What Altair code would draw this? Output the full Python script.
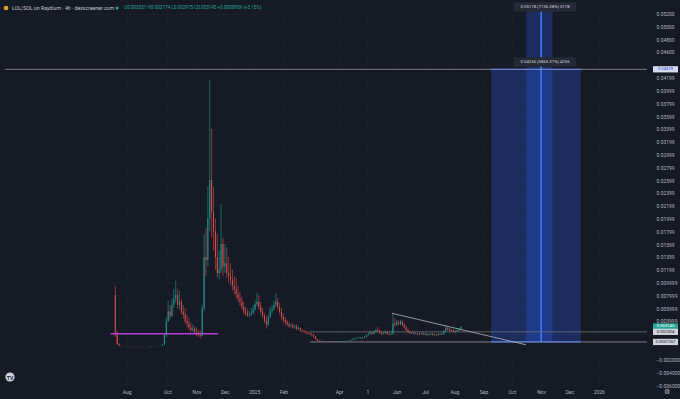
import altair as alt
import pandas as pd

# ---------------- data (prices, in 1e-3 SOL) ----------------
candle_start = "2024-08-07"
candle_step_days = 2
first_open_m = 8.0

close_m = [
    2.0, 0.4, 0.15, 0.10, 0.09, 0.08, 0.09, 0.10, 0.08, 0.07,
    0.08, 0.09, 0.08, 0.07, 0.08, 0.08, 0.09, 0.08, 0.07, 0.08,
    0.09, 0.10, 0.09, 0.11, 0.12, 0.30, 1.8, 4.0, 5.5, 4.8,
    6.5, 7.5, 8.0, 6.5, 7.0, 5.5, 5.0, 4.0, 3.6, 3.0,
    2.6, 2.8, 2.2, 2.0, 1.8, 1.7, 6.0, 14.0, 13.5, 20.0,
    26.0, 21.0, 18.0, 14.0, 11.5, 12.0, 16.0, 12.5, 13.0, 11.5,
    11.0, 10.5, 9.5, 9.0, 8.2, 7.5, 7.0, 6.2, 5.5, 5.2,
    4.9, 5.0, 5.3, 5.8, 6.6, 7.0, 6.2, 5.4, 4.8, 4.0,
    3.4, 4.6, 5.6, 5.9, 6.5, 7.0, 6.2, 5.4, 4.6, 4.2,
    3.8, 3.5, 3.2, 3.3, 3.0, 3.1, 2.8, 2.9, 2.5, 2.4,
    2.3, 2.2, 2.1, 2.0, 1.9, 1.6, 1.2, 1.0, 0.9, 0.85,
    0.80, 0.78, 0.80, 0.76, 0.79, 0.82, 0.78, 0.75, 0.80, 0.83,
    0.79, 0.82, 0.86, 0.90, 0.95, 1.05, 1.2, 1.3, 1.3, 1.4,
    1.3, 1.4, 1.5, 1.8, 2.0, 2.2, 2.0, 2.3, 2.6, 2.5,
    2.2, 2.0, 2.1, 2.3, 2.0, 1.9, 2.0, 3.6, 3.4, 3.8,
    3.5, 3.9, 3.4, 3.0, 2.6, 2.3, 2.1, 2.2, 2.0, 2.1,
    1.9, 2.0, 2.1, 1.9, 2.0, 1.8, 1.9, 2.0, 1.8, 1.9,
    1.8, 2.0, 1.9, 2.0, 2.4, 2.9, 2.7, 2.5, 2.6, 2.4,
    2.3, 2.5, 2.8, 3.145,
]
high_m = [
    9.5, 2.5, 0.5, 0.13, 0.12, 0.11, 0.12, 0.12, 0.11, 0.09,
    0.10, 0.11, 0.10, 0.09, 0.10, 0.10, 0.11, 0.10, 0.09, 0.10,
    0.11, 0.12, 0.11, 0.13, 0.14, 0.35, 2.0, 4.5, 7.2, 6.5,
    7.5, 9.0, 10.3, 9.0, 8.7, 7.5, 6.5, 6.0, 5.0, 4.5,
    3.8, 3.5, 3.2, 3.0, 2.6, 2.5, 6.5, 17.6, 18.5, 25.0,
    41.6, 34.0, 25.0, 20.0, 17.6, 15.0, 22.3, 17.0, 16.0, 15.5,
    14.0, 13.0, 12.0, 11.0, 10.8, 9.5, 8.5, 7.8, 7.0, 6.2,
    5.8, 5.6, 6.0, 6.5, 7.2, 8.4, 8.0, 7.0, 6.0, 5.2,
    4.8, 5.0, 6.2, 6.5, 7.2, 8.4, 7.6, 6.8, 6.0, 5.2,
    4.6, 4.2, 3.8, 3.6, 3.7, 3.4, 3.5, 3.2, 3.0, 2.7,
    2.6, 2.5, 2.4, 2.3, 2.1, 1.9, 1.6, 1.2, 1.0, 0.92,
    0.88, 0.84, 0.86, 0.82, 0.85, 0.88, 0.84, 0.81, 0.86, 0.89,
    0.85, 0.88, 0.92, 0.96, 1.0, 1.1, 1.3, 1.4, 1.45, 1.5,
    1.5, 1.55, 1.7, 1.9, 2.2, 2.5, 2.3, 2.5, 2.8, 3.1,
    2.6, 2.3, 2.3, 2.5, 2.4, 2.1, 2.4, 5.2, 4.4, 4.2,
    4.1, 4.2, 4.1, 3.6, 3.3, 2.8, 2.4, 2.35, 2.3, 2.25,
    2.2, 2.15, 2.25, 2.2, 2.15, 2.1, 2.0, 2.15, 2.1, 2.05,
    2.0, 2.1, 2.1, 2.2, 2.6, 3.4, 3.2, 2.9, 2.8, 2.7,
    2.6, 2.7, 2.9, 3.2,
]
low_m = [
    1.5, 0.3, 0.1, 0.08, 0.07, 0.06, 0.07, 0.08, 0.06, 0.05,
    0.06, 0.07, 0.06, 0.05, 0.06, 0.06, 0.07, 0.06, 0.05, 0.06,
    0.07, 0.08, 0.07, 0.08, 0.10, 0.11, 0.3, 1.5, 3.8, 4.2,
    4.6, 6.0, 6.8, 6.0, 5.8, 5.0, 4.4, 3.6, 3.0, 2.6,
    2.2, 2.3, 1.9, 1.7, 1.5, 1.3, 1.6, 5.5, 11.0, 12.5,
    18.0, 17.0, 15.0, 12.0, 10.8, 10.5, 11.5, 11.0, 11.5, 10.8,
    10.0, 9.6, 8.8, 8.2, 7.6, 7.0, 6.4, 5.8, 5.0, 4.8,
    4.6, 4.6, 4.8, 5.1, 5.6, 6.3, 5.8, 5.0, 4.4, 3.7,
    2.8, 3.2, 4.4, 5.2, 5.6, 6.2, 5.8, 5.0, 4.2, 3.8,
    3.4, 3.2, 2.9, 3.0, 2.8, 2.8, 2.6, 2.6, 2.3, 2.2,
    2.1, 2.0, 1.9, 1.8, 1.6, 1.4, 1.1, 0.9, 0.8, 0.80,
    0.75, 0.73, 0.75, 0.71, 0.74, 0.77, 0.73, 0.70, 0.75, 0.78,
    0.74, 0.77, 0.81, 0.85, 0.89, 0.93, 1.0, 1.15, 1.2, 1.25,
    1.2, 1.25, 1.35, 1.45, 1.7, 1.9, 1.85, 1.9, 2.2, 2.3,
    2.0, 1.85, 1.9, 2.0, 1.9, 1.75, 1.8, 1.9, 3.1, 3.2,
    3.3, 3.4, 3.2, 2.8, 2.4, 2.1, 1.95, 2.0, 1.9, 1.9,
    1.8, 1.8, 1.9, 1.8, 1.8, 1.7, 1.7, 1.8, 1.7, 1.7,
    1.65, 1.7, 1.8, 1.8, 1.9, 2.3, 2.5, 2.3, 2.3, 2.2,
    2.1, 2.2, 2.4, 2.7,
]

x_tick_dates = ["2024-08-19", "2024-10-01", "2024-11-01", "2024-12-01", "2025-01-01",
                "2025-02-01", "2025-04-01", "2025-05-01", "2025-06-01", "2025-07-01",
                "2025-08-01", "2025-09-01", "2025-10-01", "2025-11-01", "2025-12-01",
                "2026-01-01"]
x_tick_labels = ["Aug", "Oct", "Nov", "Dec", "2025", "Feb", "Apr", "1", "Jun", "Jul",
                 "Aug", "Sep", "Oct", "Nov", "Dec", "2026"]

y_tick_values = [0.052, 0.050, 0.048, 0.046, 0.044, 0.04199, 0.03999, 0.03799, 0.03599,
                 0.03399, 0.03199, 0.02999, 0.02799, 0.02599, 0.02399, 0.02199, 0.01999,
                 0.01799, 0.01599, 0.01399, 0.01199, 0.009999, 0.007999, 0.005999,
                 0.003999, 0.001999, 0.0, -0.002, -0.004, -0.006]
# scale labels hidden behind the price tags in the screenshot
y_hidden_labels = [0.044, 0.001999, 0.0]

# drawing tools
level_prices = [0.04329, 0.002304, 0.0007257]
level_starts = ["2024-04-12", "2025-03-01", "2025-03-01"]
level_colors = ["#9598a1", "#6f727c", "#9598a1"]

support_price = 0.002
support_start, support_end = "2024-08-02", "2024-11-24"

trend_t = ["2025-05-27", "2025-10-16"]
trend_p = [0.0052, 0.00028]

range_t1 = ["2025-09-09", "2025-10-16"]
range_t2 = ["2025-12-13", "2025-11-13"]
range_p1 = [0.0007257, 0.0007257]
range_p2 = [0.04329, 0.0525]
range_mid_t = "2025-11-01"

range_labels = ["0.05178 (7135.38%) 5178", "0.04256 (5865.31%) 4256"]

tag_prices = [0.04329, 0.003145, 0.002304, 0.0007257]
tag_texts = ["0.04329", "0.003145", "0.002304", "0.0007257"]
tag_fill = ["#d6dcf0", "#26a69a", "#d1d4dc", "#d1d4dc"]
tag_ink = ["#1848cc", "#ffffff", "#131722", "#131722"]

header_title = "LOL/SOL on Raydium · 4h · dexscreener.com"
header_ohlc = "O0.003051 H0.003174 L0.002975 C0.003145 +0.0000959 (+3.15%)"

# ---------------- build ----------------
BG = "#161a25"
GRID = "#1d212c"
FONT = "Roboto"


def dt(s, h=0):
    y, m, d = map(int, s.split("-"))
    return alt.DateTime(year=y, month=m, date=d, hours=h)


n = len(close_m)
open_m = [first_open_m] + close_m[:-1]
candles = pd.DataFrame({
    "t": pd.date_range(candle_start, periods=n, freq=f"{candle_step_days}D"),
    "open": [v / 1000 for v in open_m],
    "close": [v / 1000 for v in close_m],
    "high": [v / 1000 for v in high_m[:n]],
    "low": [v / 1000 for v in low_m[:n]],
})
candles["dir"] = ["up" if c >= o else "down" for o, c in zip(candles["open"], candles["close"])]

XS = alt.Scale(domain=[dt("2024-04-12", 4), dt("2026-02-21", 2)])
YS = alt.Scale(domain=[-0.00615, 0.05411], nice=False, zero=False)

expr = "''"
for d, lab in reversed(list(zip(x_tick_dates, x_tick_labels))):
    yy, mm, _ = map(int, d.split("-"))
    expr = f"(year(datum.value)=={yy} && month(datum.value)=={mm - 1}) ? '{lab}' : {expr}"

hidden = " || ".join(f"abs(datum.value - ({v})) < 1e-7" for v in y_hidden_labels)
y_expr = f"({hidden}) ? '' : (datum.value >= 0.01 ? format(datum.value, '.5f') : format(datum.value, '.6f'))"

X_AXIS = alt.Axis(values=[dt(d) for d in x_tick_dates], labelExpr=expr, title=None,
                  domain=False, ticks=False, labelPadding=3, labelFontSize=5,
                  labelColor="#b2b5be", labelFont=FONT, grid=True, gridColor=GRID,
                  gridWidth=0.6, labelOverlap=False, labelFlush=False)
Y_AXIS = alt.Axis(values=y_tick_values, orient="right", title=None, labelExpr=y_expr,
                  domain=False, ticks=False, labelPadding=4, labelFontSize=5,
                  labelColor="#b2b5be", labelFont=FONT, labelAlign="left",
                  labelBaseline="middle", grid=True, gridColor=GRID, gridWidth=0.6,
                  labelOverlap=False, labelFlush=False)


def X(f):
    return alt.X(f, type="temporal", scale=XS, axis=X_AXIS)


def Y(f):
    return alt.Y(f, type="quantitative", scale=YS, axis=Y_AXIS)


dir_color = alt.Color("dir:N", scale=alt.Scale(domain=["up", "down"], range=["#26a69a", "#ef5350"]), legend=None)

wicks = alt.Chart(candles).mark_rule(strokeWidth=0.6, opacity=0.9).encode(
    x=X("t"), y=Y("low"), y2="high:Q", color=dir_color)
bodies = alt.Chart(candles).mark_bar(width=1.0, opacity=0.85).encode(
    x=X("t"), y=Y("open"), y2="close:Q", color=dir_color)

# blue price-range boxes
ranges = pd.DataFrame({"t1": pd.to_datetime(range_t1), "t2": pd.to_datetime(range_t2),
                       "p1": range_p1, "p2": range_p2})
range_rects = alt.Chart(ranges).mark_rect(color="#2962ff", opacity=0.26).encode(
    x=X("t1"), x2="t2:T", y=Y("p1"), y2="p2:Q")
range_edges = pd.DataFrame({"t1": [pd.to_datetime(range_t1[0])] * 2,
                            "t2": [pd.to_datetime(range_t2[0])] * 2,
                            "p": [range_p1[0], range_p2[0]]})
range_edge_rules = alt.Chart(range_edges).mark_rule(color="#2962ff", strokeWidth=1.2).encode(
    x=X("t1"), x2="t2:T", y=Y("p"))
mid = pd.DataFrame({"t": [pd.to_datetime(range_mid_t)], "p1": [range_p1[1]], "p2": [range_p2[1]]})
mid_rule = alt.Chart(mid).mark_rule(color="#3d7bff", strokeWidth=1.6).encode(
    x=X("t"), y=Y("p1"), y2="p2:Q")

levels = pd.DataFrame({"t1": pd.to_datetime(level_starts),
                       "t2": [pd.Timestamp("2026-02-21")] * len(level_prices),
                       "p": level_prices, "c": level_colors})
level_rules = alt.Chart(levels).mark_rule(strokeWidth=0.8).encode(
    x=X("t1"), x2="t2:T", y=Y("p"), color=alt.Color("c:N", scale=None))

support = pd.DataFrame({"t1": [pd.Timestamp(support_start)], "t2": [pd.Timestamp(support_end)],
                        "p": [support_price]})
support_rule = alt.Chart(support).mark_rule(color="#b03fd8", strokeWidth=1.6).encode(
    x=X("t1"), x2="t2:T", y=Y("p"))

trend = pd.DataFrame({"t1": [pd.Timestamp(trend_t[0])], "t2": [pd.Timestamp(trend_t[1])],
                      "p1": [trend_p[0]], "p2": [trend_p[1]]})
trend_rule = alt.Chart(trend).mark_rule(color="#b2b5be", strokeWidth=0.8).encode(
    x=X("t1"), x2="t2:T", y=Y("p1"), y2="p2:Q")

# measurement labels above the boxes
BOX = "M-1,-0.15L1,-0.15L1,0.15L-1,0.15Z"
rl_layers = []
for lab, py in zip(range_labels, [7, 62]):
    d = pd.DataFrame({"label": [lab]})
    rl_layers.append(alt.Chart(d).mark_point(shape=BOX, size=3900, filled=True, color="#262a36", opacity=1)
                     .encode(x=alt.value(545), y=alt.value(py)))
    rl_layers.append(alt.Chart(d).mark_text(fontSize=4.3, color="#d1d4dc", font=FONT, baseline="middle")
                     .encode(x=alt.value(545), y=alt.value(py), text="label:N"))

# price tags on the right scale
tags = pd.DataFrame({"p": tag_prices, "label": tag_texts, "fill": tag_fill, "ink": tag_ink})
TAG = "M-1,-0.25L1,-0.25L1,0.25L-1,0.25Z"
tag_box = alt.Chart(tags).mark_point(shape=TAG, size=625, filled=True, opacity=1).encode(
    x=alt.value(665.5), y=Y("p"), color=alt.Color("fill:N", scale=None))
tag_text = alt.Chart(tags).mark_text(fontSize=4.2, font=FONT, baseline="middle").encode(
    x=alt.value(665.5), y=Y("p"), text="label:N", color=alt.Color("ink:N", scale=None))

# header
hdr = pd.DataFrame({"a": [header_title], "b": [header_ohlc]})
hdr_icon = alt.Chart(hdr).mark_point(shape="circle", size=22, filled=True, color="#e3a33b", opacity=1).encode(
    x=alt.value(6), y=alt.value(8))
hdr_title = alt.Chart(hdr).mark_text(fontSize=5.2, color="#c3c6ce", font=FONT, align="left", baseline="middle").encode(
    x=alt.value(12), y=alt.value(8), text="a:N")
hdr_dot = alt.Chart(hdr).mark_point(shape="circle", size=10, filled=True, color="#26a69a", opacity=1).encode(
    x=alt.value(117), y=alt.value(8))
hdr_ohlc = alt.Chart(hdr).mark_text(fontSize=4.6, color="#26a69a", font=FONT, align="left", baseline="middle").encode(
    x=alt.value(124), y=alt.value(8), text="b:N")

# logo + gear
logo_df = pd.DataFrame({"s": ["TV"], "g": ["⚙"]})
logo_c = alt.Chart(logo_df).mark_point(shape="circle", size=85, filled=True, color="#d1d4dc", opacity=1).encode(
    x=alt.value(10), y=alt.value(377))
logo_t = alt.Chart(logo_df).mark_text(fontSize=5, fontWeight="bold", color="#131722", font=FONT, baseline="middle").encode(
    x=alt.value(10), y=alt.value(377.5), text="s:N")
gear = alt.Chart(logo_df).mark_text(fontSize=7, color="#b2b5be", baseline="middle").encode(
    x=alt.value(667), y=alt.value(392), text="g:N")

chart = alt.layer(
    wicks, range_rects, range_edge_rules, mid_rule, level_rules, support_rule, trend_rule,
    bodies, *rl_layers, tag_box, tag_text,
    hdr_icon, hdr_title, hdr_dot, hdr_ohlc, logo_c, logo_t, gear,
).properties(
    width=652, height=386,
    padding={"left": 0, "top": 0, "right": 28, "bottom": 13},
    autosize=alt.AutoSizeParams(type="none"),
).configure(background=BG).configure_view(stroke=None)

chart.save("out.html", embed_options={"renderer": "svg", "actions": False})
